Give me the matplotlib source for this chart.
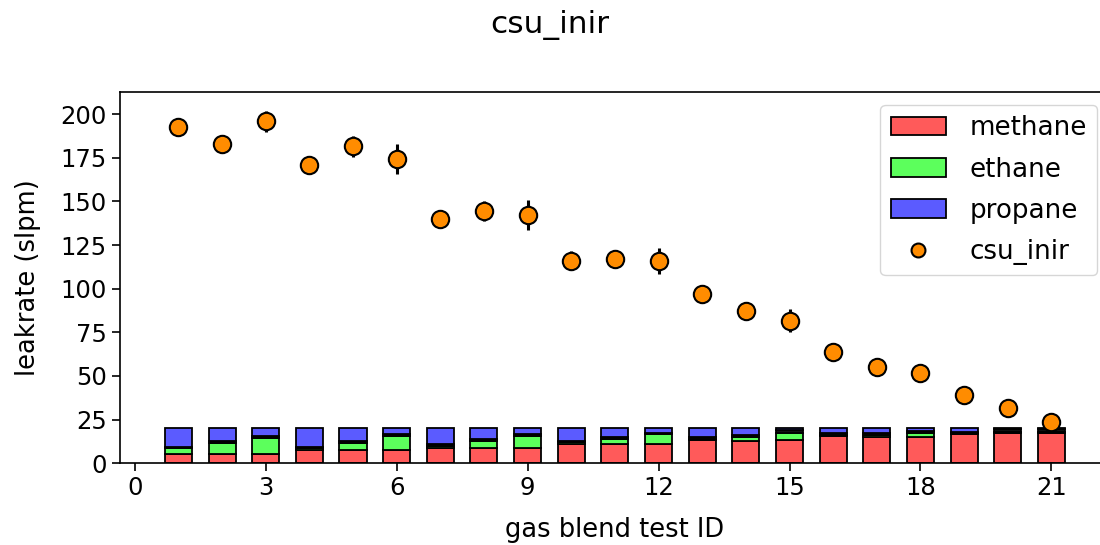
import matplotlib
matplotlib.use("Agg")
import matplotlib.pyplot as plt
import numpy as np

test_id = list(range(1, 22))
methane = [5.5, 5.5, 5.5, 7.5, 7.5, 7.5, 8.7, 8.7, 8.7, 11.0, 11.0, 11.0, 13.3, 13.0, 13.3, 15.7, 15.3, 15.3, 17.0, 17.6, 17.6]
ethane = [3.0, 6.0, 9.0, 1.0, 4.0, 8.0, 1.3, 4.0, 7.0, 1.0, 3.0, 5.5, 0.5, 2.0, 4.0, 0.5, 1.0, 2.0, 0.3, 0.3, 0.3]
other = [1.0, 1.0, 1.0, 1.0, 1.0, 1.0, 0.8, 1.0, 1.0, 1.0, 1.0, 1.0, 1.0, 1.0, 1.5, 1.0, 1.0, 1.2, 0.7, 1.6, 1.6]
propane = [10.5, 7.5, 4.5, 10.5, 7.5, 3.5, 9.2, 6.3, 3.3, 7.0, 5.0, 2.5, 5.2, 4.0, 1.2, 2.8, 2.7, 1.5, 2.0, 0.5, 0.5]
leakrate = [192.6, 182.9, 196.0, 170.9, 181.7, 174.3, 140.0, 144.6, 142.3, 116.0, 117.0, 116.0, 97.0, 87.4, 81.7, 64.0, 55.4, 52.0, 38.9, 31.4, 23.4]
leak_err = [4.5, 3.0, 6.0, 2.5, 6.0, 8.5, 2.5, 5.5, 8.5, 5.5, 4.0, 7.5, 2.5, 3.5, 6.5, 2.5, 2.5, 3.0, 2.5, 3.0, 4.0]

plt.rcParams['font.family'] = ['DejaVu Sans']
fig = plt.figure(figsize=(11, 5.45), dpi=100)
# axes extends slightly past the right edge of the figure (reference is cropped there)
ax = fig.add_axes([0.109, 0.150, 0.900, 0.682])

x = np.array(test_id)
m = np.array(methane); e = np.array(ethane); o = np.array(other); p = np.array(propane)
w = 0.62
h1 = ax.bar(x, m, w, color='#FF5A5A', edgecolor='black', linewidth=1.3, label='methane')
h2 = ax.bar(x, e, w, bottom=m, color='#5CFF5C', edgecolor='black', linewidth=1.3, label='ethane')
ax.bar(x, o, w, bottom=m + e, color='#111111', edgecolor='black', linewidth=1.3)
h3 = ax.bar(x, p, w, bottom=m + e + o, color='#5B5BFF', edgecolor='black', linewidth=1.3, label='propane')

ax.errorbar(x, leakrate, yerr=leak_err, fmt='none', ecolor='black', elinewidth=2.2, capsize=0, zorder=3)
h4, = ax.plot(x, leakrate, 'o', markerfacecolor='#FF8C00', markeredgecolor='black',
              markeredgewidth=1.5, markersize=12.5, label='csu_inir', zorder=4)

ax.set_xlim(-0.34, 22.34)
ax.set_ylim(0, 213)
ax.set_xticks(range(0, 22, 3))
ax.set_yticks(range(0, 201, 25))
ax.tick_params(labelsize=17.5, length=6, width=1.2)
for s in ax.spines.values():
    s.set_linewidth(1.2)
ax.set_xlabel('gas blend test ID', fontsize=18.5, labelpad=12)
ax.set_ylabel('leakrate (slpm)', fontsize=18.5, labelpad=14)
ax.legend(handles=[h1, h2, h3, h4], loc='upper right', fontsize=18.8, handlelength=2.1,
          handletextpad=0.9, labelspacing=0.58, markerscale=0.8,
          bbox_to_anchor=(1097 / 1100, 1 - 105 / 545), bbox_transform=fig.transFigure,
          borderaxespad=0.0)
fig.suptitle('csu_inir', fontsize=22.5, y=1 - 25 / 545, va='center')

fig.savefig('out.png', dpi=100)
